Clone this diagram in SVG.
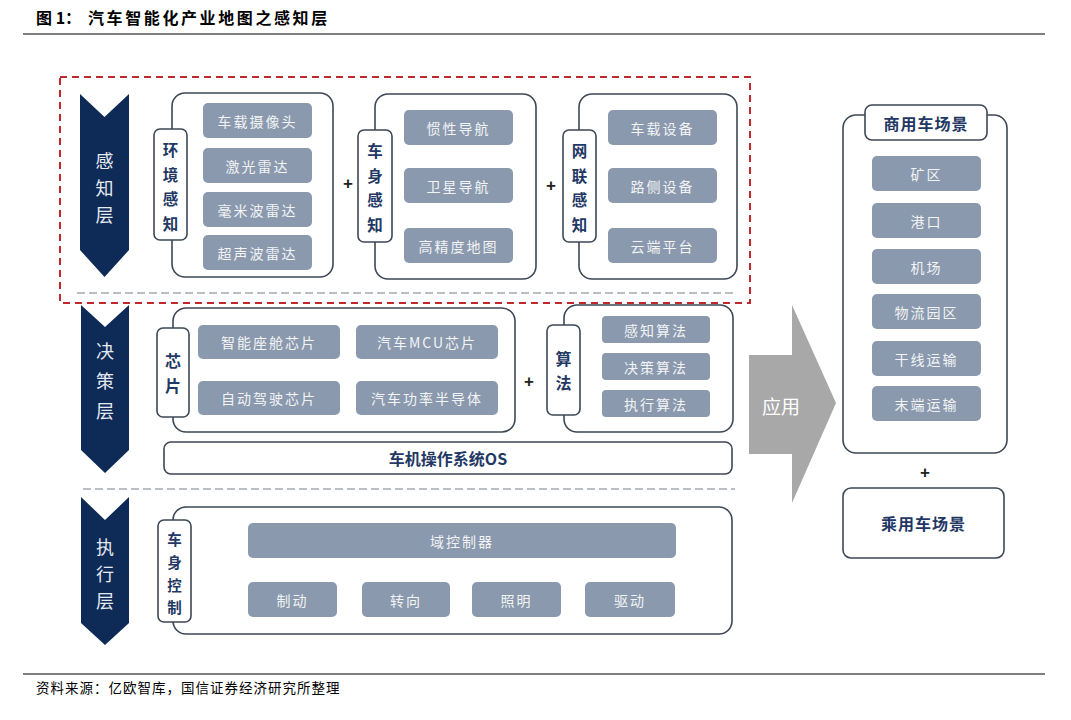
<svg xmlns="http://www.w3.org/2000/svg" width="1071" height="720" viewBox="0 0 1071 720">
<style>
.t{font-family:"Noto Sans CJK SC","Noto Sans",sans-serif}
.item{fill:#8a99ad;stroke:none}
.itxt{font-family:"Noto Sans CJK SC",sans-serif;font-size:14px;fill:#f2f4f7;text-anchor:middle;dominant-baseline:central;letter-spacing:2px}
.panel{fill:#ffffff;stroke:#3d4756;stroke-width:1.6}
.tab{fill:#ffffff;stroke:#3d4756;stroke-width:1.6}
.ttxt{font-family:"Noto Sans CJK SC",sans-serif;font-size:16px;font-weight:bold;fill:#1f3864;text-anchor:middle;dominant-baseline:central}
.vt{font-size:15.5px}
.ve{font-size:14.5px}
.chev{fill:#0e2a57}
.ctxt{font-family:"Noto Sans CJK SC",sans-serif;font-size:18px;fill:#e6ebf2;text-anchor:middle;dominant-baseline:central}
.plus{font-family:"Liberation Sans",sans-serif;font-size:17px;font-weight:bold;fill:#222;text-anchor:middle;dominant-baseline:central}
.gdash{stroke:#a3aab2;stroke-width:1.6;stroke-dasharray:8 4;fill:none}
</style>
<rect x="0" y="0" width="1071" height="720" fill="#ffffff"/>
<g id="title">
<text class="t" x="36" y="24" font-size="16" font-weight="bold" fill="#000">图 1：</text>
<text class="t" x="88" y="24" font-size="16" font-weight="bold" fill="#000" letter-spacing="2.6">汽车智能化产业地图之感知层</text>
<line x1="23" y1="34" x2="1045" y2="34" stroke="#000" stroke-width="1.2"/>
</g>
<g id="footer">
<line x1="23" y1="674" x2="1045" y2="674" stroke="#000" stroke-width="1.2"/>
<text class="t" x="36" y="693" font-size="13.5" fill="#000" letter-spacing="1">资料来源：亿欧智库，国信证券经济研究所整理</text>
</g>
<g id="connectors">
<rect x="60" y="77" width="690" height="226" fill="none" stroke="#c0282d" stroke-width="2" stroke-dasharray="7 5"/>
<line class="gdash" x1="77" y1="293" x2="737" y2="293"/>
<line class="gdash" x1="83" y1="489" x2="735" y2="489"/>
</g>
<g id="layer-perception">
<polygon class="chev" points="80,94 104.5,117 129,94 129,250 104.5,277 80,250"/>
<text class="ctxt" x="104.5" y="160">感</text>
<text class="ctxt" x="104.5" y="187">知</text>
<text class="ctxt" x="104.5" y="214">层</text>
</g>
<g id="layer-decision">
<polygon class="chev" points="81,305 105,327 129,305 129,450 105,473 81,450"/>
<text class="ctxt" x="105" y="350">决</text>
<text class="ctxt" x="105" y="380">策</text>
<text class="ctxt" x="105" y="410">层</text>
</g>
<g id="layer-execution">
<polygon class="chev" points="81,497 105,520 129,497 129,623 105,645 81,623"/>
<text class="ctxt" x="105" y="546">执</text>
<text class="ctxt" x="105" y="573">行</text>
<text class="ctxt" x="105" y="600">层</text>
</g>
<g id="env-perception">
<rect class="panel" x="172" y="93" width="161" height="184" rx="13"/>
<rect class="tab" x="154" y="129" width="33" height="111" rx="6"/>
<text class="ttxt vt" x="170.5" y="149">环</text>
<text class="ttxt vt" x="170.5" y="173.5">境</text>
<text class="ttxt vt" x="170.5" y="198">感</text>
<text class="ttxt vt" x="170.5" y="222.5">知</text>
<rect class="item" x="203" y="103" width="109" height="35" rx="5"/><text class="itxt" x="257.5" y="120.5">车载摄像头</text>
<rect class="item" x="203" y="148" width="109" height="35" rx="5"/><text class="itxt" x="257.5" y="165.5">激光雷达</text>
<rect class="item" x="203" y="192" width="109" height="35" rx="5"/><text class="itxt" x="257.5" y="209.5">毫米波雷达</text>
<rect class="item" x="203" y="235" width="109" height="35" rx="5"/><text class="itxt" x="257.5" y="252.5">超声波雷达</text>
</g>
<text class="plus" x="348" y="183">+</text>
<g id="body-perception">
<rect class="panel" x="375" y="94" width="161" height="185" rx="13"/>
<rect class="tab" x="358" y="130" width="34" height="112" rx="6"/>
<text class="ttxt vt" x="375" y="150">车</text>
<text class="ttxt vt" x="375" y="174.5">身</text>
<text class="ttxt vt" x="375" y="199">感</text>
<text class="ttxt vt" x="375" y="223.5">知</text>
<rect class="item" x="404" y="110" width="109" height="35" rx="5"/><text class="itxt" x="458.5" y="127.5">惯性导航</text>
<rect class="item" x="404" y="168" width="109" height="35" rx="5"/><text class="itxt" x="458.5" y="185.5">卫星导航</text>
<rect class="item" x="404" y="228" width="109" height="35" rx="5"/><text class="itxt" x="458.5" y="245.5">高精度地图</text>
</g>
<text class="plus" x="551" y="185">+</text>
<g id="v2x-perception">
<rect class="panel" x="579" y="94" width="158" height="185" rx="13"/>
<rect class="tab" x="563" y="130" width="33" height="112" rx="6"/>
<text class="ttxt vt" x="579.5" y="150">网</text>
<text class="ttxt vt" x="579.5" y="174.5">联</text>
<text class="ttxt vt" x="579.5" y="199">感</text>
<text class="ttxt vt" x="579.5" y="223.5">知</text>
<rect class="item" x="608" y="110" width="109" height="35" rx="5"/><text class="itxt" x="662.5" y="127.5">车载设备</text>
<rect class="item" x="608" y="168" width="109" height="35" rx="5"/><text class="itxt" x="662.5" y="185.5">路侧设备</text>
<rect class="item" x="608" y="228" width="109" height="35" rx="5"/><text class="itxt" x="662.5" y="245.5">云端平台</text>
</g>
<g id="chips">
<rect class="panel" x="173" y="308" width="342" height="124" rx="13"/>
<rect class="tab" x="157" y="328" width="32" height="89" rx="6"/>
<text class="ttxt" x="173" y="360">芯</text>
<text class="ttxt" x="173" y="385">片</text>
<rect class="item" x="198" y="325" width="142" height="34" rx="5"/><text class="itxt" x="269" y="342">智能座舱芯片</text>
<rect class="item" x="356" y="325" width="142" height="34" rx="5"/><text class="itxt" x="427" y="342">汽车MCU芯片</text>
<rect class="item" x="198" y="381" width="142" height="34" rx="5"/><text class="itxt" x="269" y="398">自动驾驶芯片</text>
<rect class="item" x="356" y="381" width="142" height="34" rx="5"/><text class="itxt" x="427" y="398">汽车功率半导体</text>
</g>
<text class="plus" x="529" y="381">+</text>
<g id="algorithms">
<rect class="panel" x="564" y="305" width="169" height="127" rx="13"/>
<rect class="tab" x="547" y="325" width="33" height="90" rx="6"/>
<text class="ttxt" x="563.5" y="358">算</text>
<text class="ttxt" x="563.5" y="382">法</text>
<rect class="item" x="602" y="316" width="108" height="27" rx="4"/><text class="itxt" x="656" y="329.5">感知算法</text>
<rect class="item" x="602" y="353" width="108" height="27" rx="4"/><text class="itxt" x="656" y="366.5">决策算法</text>
<rect class="item" x="602" y="390" width="108" height="27" rx="4"/><text class="itxt" x="656" y="403.5">执行算法</text>
</g>
<g id="os">
<rect class="panel" x="164" y="442" width="568" height="32" rx="7"/>
<text class="ttxt" x="448" y="458">车机操作系统OS</text>
</g>
<g id="body-control">
<rect class="panel" x="173" y="507" width="559" height="127" rx="13"/>
<rect class="tab" x="158" y="520" width="33" height="102" rx="6"/>
<text class="ttxt ve" x="174.5" y="538">车</text>
<text class="ttxt ve" x="174.5" y="561">身</text>
<text class="ttxt ve" x="174.5" y="584">控</text>
<text class="ttxt ve" x="174.5" y="606">制</text>
<rect class="item" x="248" y="523" width="428" height="35" rx="5"/><text class="itxt" x="462" y="540.5">域控制器</text>
<rect class="item" x="248" y="582" width="89" height="35" rx="5"/><text class="itxt" x="292.5" y="599.5">制动</text>
<rect class="item" x="362" y="582" width="88" height="35" rx="5"/><text class="itxt" x="406" y="599.5">转向</text>
<rect class="item" x="472" y="582" width="89" height="35" rx="5"/><text class="itxt" x="516.5" y="599.5">照明</text>
<rect class="item" x="585" y="582" width="90" height="35" rx="5"/><text class="itxt" x="630" y="599.5">驱动</text>
</g>
<g id="apply-arrow">
<polygon points="749,355 792,355 792,305 836,403 792,503 792,454 749,454" fill="#a8a8a8"/>
<text class="t" x="781" y="405" font-size="19" fill="#ffffff" text-anchor="middle" dominant-baseline="central">应用</text>
</g>
<g id="commercial">
<rect class="panel" x="843" y="115" width="164" height="338" rx="13"/>
<rect class="tab" x="865" y="105" width="122" height="35" rx="7"/>
<text class="ttxt" x="926" y="123" letter-spacing="1">商用车场景</text>
<rect class="item" x="872" y="156" width="109" height="35" rx="5"/><text class="itxt" x="926.5" y="173.5">矿区</text>
<rect class="item" x="872" y="203" width="109" height="35" rx="5"/><text class="itxt" x="926.5" y="220.5">港口</text>
<rect class="item" x="872" y="249" width="109" height="35" rx="5"/><text class="itxt" x="926.5" y="266.5">机场</text>
<rect class="item" x="872" y="294" width="109" height="35" rx="5"/><text class="itxt" x="926.5" y="311.5">物流园区</text>
<rect class="item" x="872" y="341" width="109" height="35" rx="5"/><text class="itxt" x="926.5" y="358.5">干线运输</text>
<rect class="item" x="872" y="386" width="109" height="35" rx="5"/><text class="itxt" x="926.5" y="403.5">末端运输</text>
</g>
<text class="plus" x="925" y="472">+</text>
<g id="passenger">
<rect class="panel" x="843" y="488" width="161" height="70" rx="8"/>
<text class="ttxt" x="923.5" y="523" font-size="17" letter-spacing="1">乘用车场景</text>
</g>
</svg>
